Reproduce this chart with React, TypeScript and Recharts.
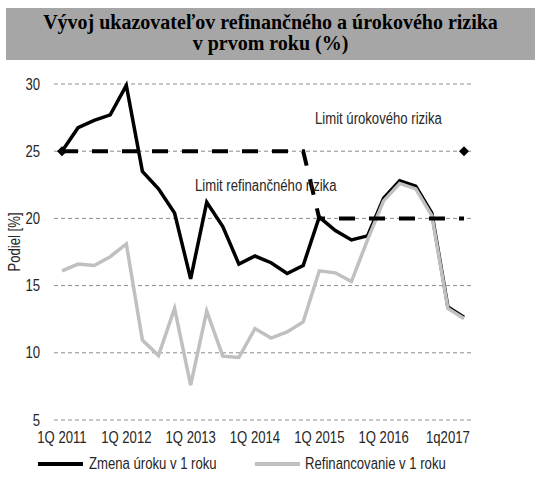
import { CartesianGrid, Line, LineChart, XAxis, YAxis } from "recharts";

const categories = [
  "1Q 2011", "2Q 2011", "3Q 2011", "4Q 2011",
  "1Q 2012", "2Q 2012", "3Q 2012", "4Q 2012",
  "1Q 2013", "2Q 2013", "3Q 2013", "4Q 2013",
  "1Q 2014", "2Q 2014", "3Q 2014", "4Q 2014",
  "1Q 2015", "2Q 2015", "3Q 2015", "4Q 2015",
  "1Q 2016", "2Q 2016", "3Q 2016", "4Q 2016",
  "1q2017", "2Q 2017",
];

// Zmena úroku v 1 roku
const zmenaUroku = [
  25.0, 26.75, 27.3, 27.7, 29.9, 23.5, 22.2, 20.4, 15.5, 21.2, 19.4, 16.6, 17.2,
  16.7, 15.9, 16.5, 20.1, 19.1, 18.4, 18.7, 21.5, 22.8, 22.4, 20.4, 13.4, 12.65,
];

// Refinancovanie v 1 roku
const refinancovanie = [
  16.1, 16.6, 16.5, 17.15, 18.1, 10.95, 9.8, 13.3, 7.6, 13.1, 9.75, 9.65, 11.8,
  11.1, 11.55, 12.3, 16.1, 15.95, 15.3, 18.4, 21.3, 22.6, 22.2, 20.2, 13.3, 12.55,
];

// limity
const limitRefinancneho = [
  25, 25, 25, 25, 25, 25, 25, 25, 25, 25, 25, 25, 25, 25, 25, 25,
  20, 20, 20, 20, 20, 20, 20, 20, 20, 20,
];
const limitUrokoveho = [
  25, null, null, null, null, null, null, null, null, null, null, null, null,
  null, null, null, null, null, null, null, null, null, null, null, null, 25,
];

const yTicks = [5, 10, 15, 20, 25, 30];

const data = categories.map((q, i) => ({
  q,
  zmena: zmenaUroku[i],
  refin: refinancovanie[i],
  limRef: limitRefinancneho[i],
  limUrok: limitUrokoveho[i],
}));

// no Arial Narrow here -> Liberation Sans squeezed horizontally
const FONT = '"Liberation Sans", Arial, sans-serif';
const NARROW = 0.82;
const TEXT = "#262626";

function Diamond(props: any) {
  const { cx, cy, value } = props;
  if (value == null || cx == null || cy == null) return null;
  const r = 5;
  return (
    <polygon
      points={`${cx},${cy - r} ${cx + r},${cy} ${cx},${cy + r} ${cx - r},${cy}`}
      fill="#000"
    />
  );
}

function XTick(props: any) {
  const { x, y, payload } = props;
  return (
    <g transform={`translate(${x},${y})`}>
      <text
        transform={`scale(${NARROW},1)`}
        textAnchor="middle"
        dy="0.71em"
        fontSize={16}
        fontFamily={FONT}
        fill={TEXT}
      >
        {payload.value}
      </text>
    </g>
  );
}

function YTick(props: any) {
  const { x, y, payload } = props;
  return (
    <g transform={`translate(${x},${y})`}>
      <text
        transform={`scale(${NARROW},1)`}
        textAnchor="end"
        dy="0.355em"
        fontSize={16}
        fontFamily={FONT}
        fill={TEXT}
      >
        {payload.value}
      </text>
    </g>
  );
}

const narrowSpan = {
  display: "inline-block",
  transform: `scaleX(${NARROW})`,
  transformOrigin: "left center",
  whiteSpace: "nowrap" as const,
};

export default function App() {
  return (
    <div
      style={{
        position: "absolute",
        left: 0,
        top: 0,
        width: 540,
        height: 490,
        background: "#fff",
        fontFamily: FONT,
        color: TEXT,
        fontSize: 16,
      }}
    >
      <div
        style={{
          position: "absolute",
          left: 6,
          top: 8,
          width: 529,
          height: 52,
          background: "#a6a6a6",
          fontFamily: '"Liberation Serif", "Times New Roman", serif',
          fontWeight: "bold",
          fontSize: 20,
          lineHeight: "21px",
          textAlign: "center",
          color: "#000",
          paddingTop: 4,
          boxSizing: "border-box",
        }}
      >
        Vývoj ukazovateľov refinančného a úrokového rizika
        <br />v prvom roku (%)
      </div>

      <LineChart
        width={540}
        height={490}
        data={data}
        margin={{ top: 84, right: 68, bottom: 40, left: 24 }}
        style={{ position: "absolute", left: 0, top: 0 }}
      >
        <CartesianGrid vertical={false} stroke="#8c8c8c" strokeDasharray="4 3" />
        <XAxis
          dataKey="q"
          interval={3}
          axisLine={false}
          tickLine={false}
          tickSize={0}
          tickMargin={12}
          height={30}
          padding={{ left: 8, right: 8 }}
          tick={<XTick />}
        />
        <YAxis
          domain={[5, 30]}
          ticks={yTicks}
          axisLine={false}
          tickLine={false}
          tickSize={0}
          tickMargin={14}
          width={30}
          tick={<YTick />}
        />
        <Line
          dataKey="zmena"
          stroke="#000"
          strokeWidth={3.5}
          dot={false}
          type="linear"
          isAnimationActive={false}
        />
        <Line
          dataKey="refin"
          stroke="#c0c0c0"
          strokeWidth={3.5}
          dot={false}
          type="linear"
          isAnimationActive={false}
        />
        <Line
          dataKey="limRef"
          stroke="#000"
          strokeWidth={4}
          strokeDasharray="16 14"
          dot={false}
          type="linear"
          isAnimationActive={false}
        />
        <Line
          dataKey="limUrok"
          stroke="none"
          dot={<Diamond />}
          type="linear"
          connectNulls
          isAnimationActive={false}
        />
      </LineChart>

      <div
        style={{
          position: "absolute",
          left: 15,
          top: 242,
          transform: `translate(-50%, -50%) rotate(-90deg) scaleX(${NARROW})`,
          whiteSpace: "nowrap",
        }}
      >
        Podiel [%]
      </div>

      <div style={{ position: "absolute", left: 315, top: 110 }}>
        <span style={narrowSpan}>Limit úrokového rizika</span>
      </div>
      <div style={{ position: "absolute", left: 195, top: 177 }}>
        <span style={narrowSpan}>Limit refinančného rizika</span>
      </div>

      <div style={{ position: "absolute", left: 38, top: 455, display: "flex", alignItems: "center" }}>
        <span style={{ display: "inline-block", width: 45, height: 4, background: "#000", marginRight: 6 }} />
        <span style={narrowSpan}>Zmena úroku v 1 roku</span>
      </div>
      <div style={{ position: "absolute", left: 255, top: 455, display: "flex", alignItems: "center" }}>
        <span style={{ display: "inline-block", width: 45, height: 4, background: "#c0c0c0", marginRight: 5 }} />
        <span style={narrowSpan}>Refinancovanie v 1 roku</span>
      </div>
    </div>
  );
}
